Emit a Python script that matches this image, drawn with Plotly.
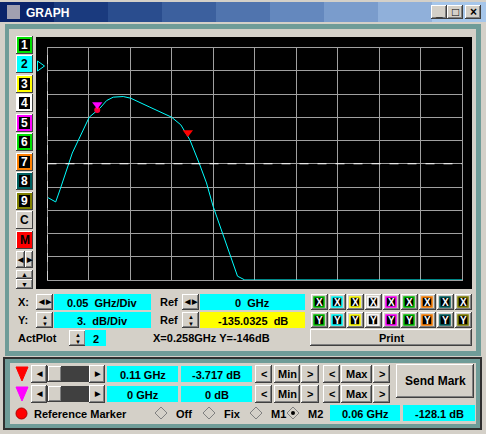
import plotly.graph_objects as go

W, H = 486, 434
freq_ghz = [0.0, 0.0099, 0.0151, 0.0299, 0.0504, 0.0633, 0.0713, 0.0793, 0.0913, 0.1002,
            0.1235, 0.1496, 0.1608, 0.1717, 0.1829, 0.1918, 0.1998, 0.2199, 0.2292, 0.2380, 0.5]
level_db = [-139.37, -139.96, -138.38, -133.65, -129.02, -127.86, -126.88, -126.44, -126.36, -126.57,
            -127.73, -129.02, -130.01, -131.94, -134.94, -137.51, -140.53, -146.53, -149.54, -150.03, -150.03]
m1_marker = [0.1693, -131.0]
m2_marker = [0.06, -127.4]
ref_db = -135.0325
x_per_div = 0.05
y_per_div = 3.0

FONT = "Liberation Sans"
shapes, ann = [], []

def rect(x0, y0, x1, y1, fill, line=None, lw=1):
    shapes.append(dict(type="rect", xref="x", yref="y", x0=x0, y0=y0, x1=x1, y1=y1,
                       fillcolor=fill, line=dict(color=line or fill, width=lw if line else 0),
                       layer="below"))

def bevel(x0, y0, x1, y1, fill="#d4d0c8"):
    rect(x0, y0, x1, y1, "#404040")
    rect(x0, y0, x1 - 1, y1 - 1, "#ffffff")
    rect(x0 + 1, y0 + 1, x1 - 1, y1 - 1, "#808080")
    rect(x0 + 1, y0 + 1, x1 - 2, y1 - 2, fill)

def text(x, y, s, size=11, color="black", anchor="center", bold=True):
    ann.append(dict(xref="x", yref="y", x=x, y=y, text=("<b>%s</b>" % s) if bold else s,
                    showarrow=False, xanchor=anchor, yanchor="middle",
                    font=dict(family=FONT, size=size, color=color)))

def tri(x, y, w, h, color, down=True, outline=False):
    if down:
        path = "M %f %f L %f %f L %f %f Z" % (x - w / 2, y - h / 2, x + w / 2, y - h / 2, x, y + h / 2)
    else:
        path = "M %f %f L %f %f L %f %f Z" % (x - w / 2, y - h / 2, x + w / 2, y, x - w / 2, y + h / 2)
    shapes.append(dict(type="path", xref="x", yref="y", path=path,
                       fillcolor="rgba(0,0,0,0)" if outline else color,
                       line=dict(color=color, width=1), layer="below"))

rect(0, 0, W, H, "#d4d0c8")
cols = ["#0a246a", "#1a3a7e", "#2a4d8e", "#3c609e", "#5074ae", "#6488be", "#7a9ccc", "#90b0da", "#a6c6ea"]
seg = W / len(cols)
for i, c in enumerate(cols):
    rect(i * seg, 2, (i + 1) * seg + 1, 22, c)
text(24, 13, "GRAPH", 12, "white", "left")
rect(7, 5, 20, 19, "#a0a0b0")
for bx, s in [(431, "_"), (447, "□"), (465, "×")]:
    bevel(bx, 5, bx + 16, 19)
    text(bx + 8, 12, s, 12)

rect(5, 24, 481, 356, "#6f9c98")
rect(9, 29, 476, 351, "#d4d0c8")
rect(36, 37, 472, 289, "#000000")
rect(3, 357, 482, 430, "#303030")
rect(5, 359, 480, 428, "#6f9c98")
rect(10, 363, 476, 424, "#d4d0c8")

btns = [("1", "#000000", "#00e000", "white"), ("2", "#00ffff", "#00ffff", "black"),
        ("3", "#000000", "#ffff00", "white"), ("4", "#000000", "#ffffff", "white"),
        ("5", "#000000", "#ff00ff", "white"), ("6", "#000000", "#00e000", "white"),
        ("7", "#000000", "#ff8000", "white"), ("8", "#000000", "#006060", "white"),
        ("9", "#000000", "#808000", "white"), ("C", "#d4d0c8", "#d4d0c8", "black"),
        ("M", "#ff0000", "#ff0000", "black")]
ys = [37, 56, 76, 95, 115, 134, 154, 173, 193, 212, 232]
for (lab, bg, bd, tc), y0 in zip(btns, ys):
    bevel(16, y0 - 1, 33, y0 + 17)
    rect(18, y0 + 1, 31, y0 + 15, bg, bd, 2)
    text(24.5, y0 + 8, lab, 12, tc)
bevel(16, 251, 25, 268); bevel(25, 251, 33, 268)
text(20.5, 259.5, "◀", 7); text(29, 259.5, "▶", 7)
bevel(16, 270, 33, 279); bevel(16, 279, 33, 289)
text(24.5, 274.5, "▲", 7); text(24.5, 284, "▼", 7)
tri(41, 66, 7, 10, "#00ffff", down=False, outline=True)

def spinner(x, y, horiz):
    bevel(x, y - 8, x + 17, y + 8)
    if horiz:
        text(x + 5, y, "◀", 7); text(x + 12, y, "▶", 7)
    else:
        text(x + 8.5, y - 3.5, "▲", 6); text(x + 8.5, y + 3.5, "▼", 6)

def box(x0, x1, y, s, fill="#00ffff"):
    rect(x0, y - 8, x1, y + 8, fill)
    text((x0 + x1) / 2, y + 0.5, s, 11)

text(16, 302, "X:", 11, anchor="left"); spinner(36, 302, True)
box(54, 151, 302, "0.05  GHz/Div")
text(158, 302, "Ref", 11, anchor="left"); spinner(182, 302, True)
box(200, 305, 302, "0  GHz")
text(16, 320, "Y:", 11, anchor="left"); spinner(36, 320, False)
box(54, 151, 320, "3.  dB/Div")
text(158, 320, "Ref", 11, anchor="left"); spinner(182, 320, False)
box(200, 305, 320, "-135.0325  dB", "#ffff00")
xcol = ["#00c000", "#00ffff", "#ffff00", "#ffffff", "#ff00ff", "#00c000", "#ff8000", "#006060", "#808000"]
for i, c in enumerate(xcol):
    x0 = 311 + i * 18
    for y0, s in [(294, "X"), (312, "Y")]:
        bevel(x0, y0, x0 + 17, y0 + 16)
        rect(x0 + 3, y0 + 3, x0 + 13, y0 + 13, "#000000", c, 1.5)
        text(x0 + 8, y0 + 8, s, 10, "white")
text(16, 338, "ActPlot", 11, anchor="left"); spinner(69, 338, False)
box(85, 106, 338, "2")
text(151, 338, "X=0.258GHz Y=-146dB", 11, anchor="left")
bevel(310, 329, 472, 346)
text(391, 337.5, "Print", 11)

for y, col, f, d in [(374, "#ff0000", "0.11 GHz", "-3.717 dB"), (394, "#ff00ff", "0 GHz", "0 dB")]:
    tri(22, y, 12, 14, col)
    bevel(31, y - 9, 47, y + 9); text(39, y, "◀", 7)
    rect(47, y - 8, 90, y + 8, "#404040")
    bevel(48, y - 8, 62, y + 8)
    bevel(89, y - 9, 105, y + 9); text(97, y, "▶", 7)
    box(107, 178, y, f); box(181, 252, y, d)
    for x0, x1, s in [(255, 272, "<"), (274, 300, "Min"), (301, 319, ">"),
                      (323, 340, "<"), (341, 372, "Max"), (373, 390, ">")]:
        bevel(x0, y - 9, x1, y + 9); text((x0 + x1) / 2, y, s, 11)
bevel(396, 364, 474, 398)
text(435, 381, "Send Mark", 12)
shapes.append(dict(type="circle", xref="x", yref="y", x0=16, y0=408, x1=27, y1=419,
                   fillcolor="#ff0000", line=dict(color="#aa0000", width=1), layer="below"))
text(32, 413.5, "Reference Marker", 11, anchor="left")
for xc, lab in [(161, "Off"), (209, "Fix"), (256, "M1"), (293, "M2")]:
    shapes.append(dict(type="path", xref="x", yref="y",
                       path="M %f %f L %f %f L %f %f L %f %f Z" % (xc - 6, 413, xc, 407, xc + 6, 413, xc, 419),
                       fillcolor="#d4d0c8", line=dict(color="#808080", width=1), layer="below"))
    text(xc + 13, 413.5, lab, 11, anchor="left")
shapes.append(dict(type="circle", xref="x", yref="y", x0=291, y0=411, x1=295, y1=415,
                   fillcolor="black", line=dict(width=0), layer="below"))
box(330, 400, 413, "0.06 GHz"); box(403, 475, 413, "-128.1 dB")

ytop = ref_db + 5 * y_per_div
ybot = ref_db - 5 * y_per_div
shapes.append(dict(type="line", xref="x2", yref="y2", x0=0, x1=10 * x_per_div, y0=ref_db, y1=ref_db,
                   line=dict(color="white", width=1, dash="dash"), layer="above"))
shapes.append(dict(type="line", xref="x2", yref="y2", x0=0, x1=0, y0=ybot, y1=ytop,
                   line=dict(color="white", width=1, dash="dash"), layer="above"))

fig = go.Figure()
fig.add_trace(go.Scatter(x=freq_ghz, y=level_db, mode="lines", line=dict(color="#00ffff", width=1),
                         hoverinfo="skip", xaxis="x2", yaxis="y2"))
fig.add_trace(go.Scatter(x=[m2_marker[0]], y=[-128.1], mode="markers", xaxis="x2", yaxis="y2",
                         marker=dict(symbol="circle", size=6, color="#ff0040")))
fig.add_trace(go.Scatter(x=[m2_marker[0]], y=[m2_marker[1]], mode="markers", xaxis="x2", yaxis="y2",
                         marker=dict(symbol="triangle-down", size=9, color="#ff00ff")))
fig.add_trace(go.Scatter(x=[m1_marker[0]], y=[m1_marker[1]], mode="markers", xaxis="x2", yaxis="y2",
                         marker=dict(symbol="triangle-down", size=9, color="#ff0000")))

fig.update_layout(
    width=W, height=H, margin=dict(l=0, r=0, t=0, b=0), showlegend=False,
    paper_bgcolor="#d4d0c8", plot_bgcolor="rgba(0,0,0,0)",
    xaxis=dict(domain=[0, 1], range=[0, W], visible=False, anchor="y"),
    yaxis=dict(domain=[0, 1], range=[H, 0], visible=False, anchor="x"),
    xaxis2=dict(domain=[47.5 / W, 462 / W], range=[0, 10 * x_per_div], dtick=x_per_div, tick0=0,
                showgrid=True, gridcolor="#a0a0a0", gridwidth=1, zeroline=False, showticklabels=False,
                showline=True, linecolor="#a0a0a0", mirror=True, ticks="", anchor="y2"),
    yaxis2=dict(domain=[1 - 280 / H, 1 - 47.5 / H], range=[ybot, ytop], dtick=y_per_div, tick0=ytop,
                showgrid=True, gridcolor="#a0a0a0", gridwidth=1, zeroline=False, showticklabels=False,
                showline=True, linecolor="#a0a0a0", mirror=True, ticks="", anchor="x2"),
    shapes=shapes, annotations=ann,
)
fig.write_html("out.html", config={"displayModeBar": False},
               post_script="document.body.style.margin='0';document.body.style.overflow='hidden';")
